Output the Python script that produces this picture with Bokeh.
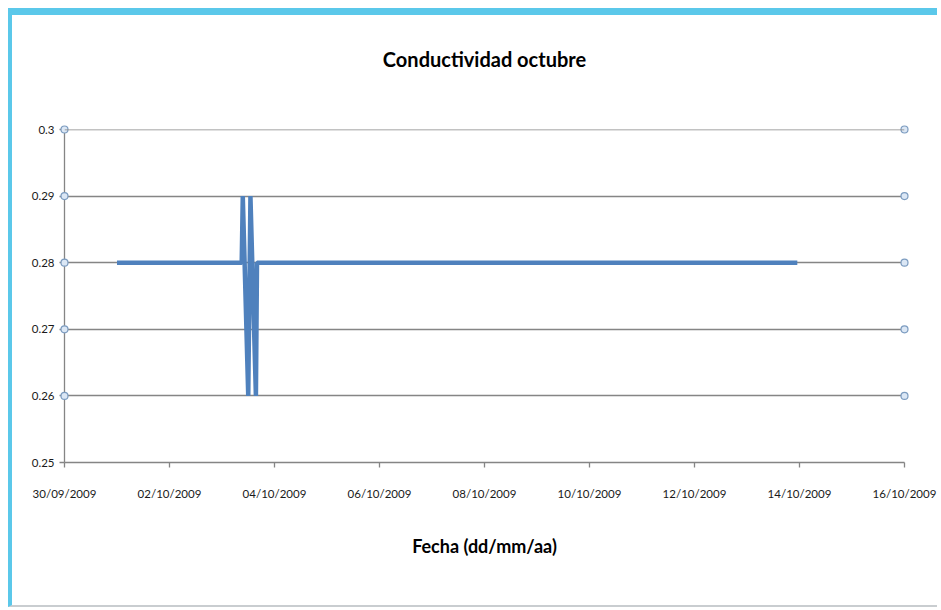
from datetime import datetime

from bokeh.embed import file_html
from bokeh.models import (ColumnDataSource, DatetimeTickFormatter, FixedTicker, Range1d,
                          Span, Title)
from bokeh.plotting import figure
from bokeh.resources import INLINE

# Conductivity readings, October 2009
fechas = [
    "2009-10-01 00:00",
    "2009-10-03 09:00",
    "2009-10-03 09:30",
    "2009-10-03 12:00",
    "2009-10-03 13:00",
    "2009-10-03 15:30",
    "2009-10-03 16:00",
    "2009-10-13 23:00",
]
conductividad = [0.28, 0.28, 0.29, 0.26, 0.29, 0.26, 0.28, 0.28]

# Axis ticks
x_ticks = [
    "2009-09-30", "2009-10-02", "2009-10-04", "2009-10-06", "2009-10-08",
    "2009-10-10", "2009-10-12", "2009-10-14", "2009-10-16",
]
y_ticks = [0.25, 0.26, 0.27, 0.28, 0.29, 0.30]
y_labels = ["0.25", "0.26", "0.27", "0.28", "0.29", "0.3"]
# gridlines that carry end handles
y_handles = [0.26, 0.27, 0.28, 0.29, 0.30]

FONT = "Lato"
GRID = "#858585"


def to_dt(s):
    fmt = "%Y-%m-%d %H:%M" if " " in s else "%Y-%m-%d"
    return datetime.strptime(s, fmt)


def to_ms(d):
    return (d - datetime(1970, 1, 1)).total_seconds() * 1000.0


x_start = to_dt(x_ticks[0])
x_end = to_dt(x_ticks[-1])

source = ColumnDataSource(data=dict(x=[to_dt(s) for s in fechas], y=conductividad))

p = figure(
    width=929,
    height=599,
    x_axis_type="datetime",
    x_range=Range1d(start=x_start, end=x_end),
    y_range=Range1d(start=y_ticks[0], end=y_ticks[-1]),
    output_backend="svg",
    toolbar_location=None,
    min_border_left=52,
    min_border_right=37,
    min_border_top=114,
    min_border_bottom=152,
)
p.styles = {
    "margin-left": "8px",
    "margin-top": "8px",
    "border-top": "7px solid #5bc8ea",
    "border-left": "4px solid #5bc8ea",
    "border-bottom": "2px solid #c9cdd0",
}

# blank spacer between the plot area and the title
p.add_layout(Title(text=" ", text_font_size="1px", standoff=51), "above")

p.title.text = "Conductividad octubre"
p.title.align = "center"
p.title.text_font = FONT
p.title.text_font_size = "20px"
p.title.text_font_style = "bold"
p.title.text_color = "#000000"
p.title.standoff = 10

p.background_fill_color = "white"
p.border_fill_color = "white"
p.outline_line_color = None

# gridlines
p.xgrid.grid_line_color = None
p.ygrid.grid_line_color = GRID
p.ygrid.grid_line_width = 1.3
p.ygrid.ticker = FixedTicker(ticks=y_ticks)
# top gridline sits on the frame edge; draw it as an overlay so it stays visible
p.add_layout(Span(location=y_ticks[-1], dimension="width",
                  line_color=GRID, line_width=1.3, level="overlay"))

# x axis
p.xaxis.ticker = FixedTicker(ticks=[to_ms(to_dt(s)) for s in x_ticks])
fmt = "%d/%m/%Y"
p.xaxis.formatter = DatetimeTickFormatter(
    microseconds=fmt, milliseconds=fmt, seconds=fmt, minsec=fmt, minutes=fmt,
    hourmin=fmt, hours=fmt, days=fmt, months=fmt, years=fmt,
)
p.xaxis.axis_label = "Fecha (dd/mm/aa)"
p.xaxis.axis_label_text_font = FONT
p.xaxis.axis_label_text_font_size = "18px"
p.xaxis.axis_label_text_font_style = "bold"
p.xaxis.axis_label_text_color = "#000000"
p.xaxis.axis_label_standoff = 32
p.xaxis.major_label_standoff = 19

# y axis
p.yaxis.ticker = FixedTicker(ticks=y_ticks)
p.yaxis.major_label_overrides = {t: lab for t, lab in zip(y_ticks, y_labels)}
p.yaxis.major_label_standoff = 5

for ax in (p.xaxis, p.yaxis):
    ax.axis_line_color = GRID
    ax.axis_line_width = 1.3
    ax.major_tick_line_color = GRID
    ax.major_tick_line_width = 1.3
    ax.major_tick_in = 0
    ax.major_tick_out = 5
    ax.minor_tick_line_color = None
    ax.major_label_text_font = FONT
    ax.major_label_text_font_size = "11.5px"
    ax.major_label_text_color = "#1a1a1a"

p.line("x", "y", source=source, line_color="#4f81bd", line_width=4.5)

# gridline end handles
hx = [x_start] * len(y_handles) + [x_end] * len(y_handles)
hy = y_handles + y_handles
p.scatter(
    hx, hy, marker="circle", size=7,
    fill_color="#dbe7f5", line_color="#7c9cc0", line_width=1.2,
    level="overlay",
)

open("out.html", "w").write(file_html(p, INLINE))
